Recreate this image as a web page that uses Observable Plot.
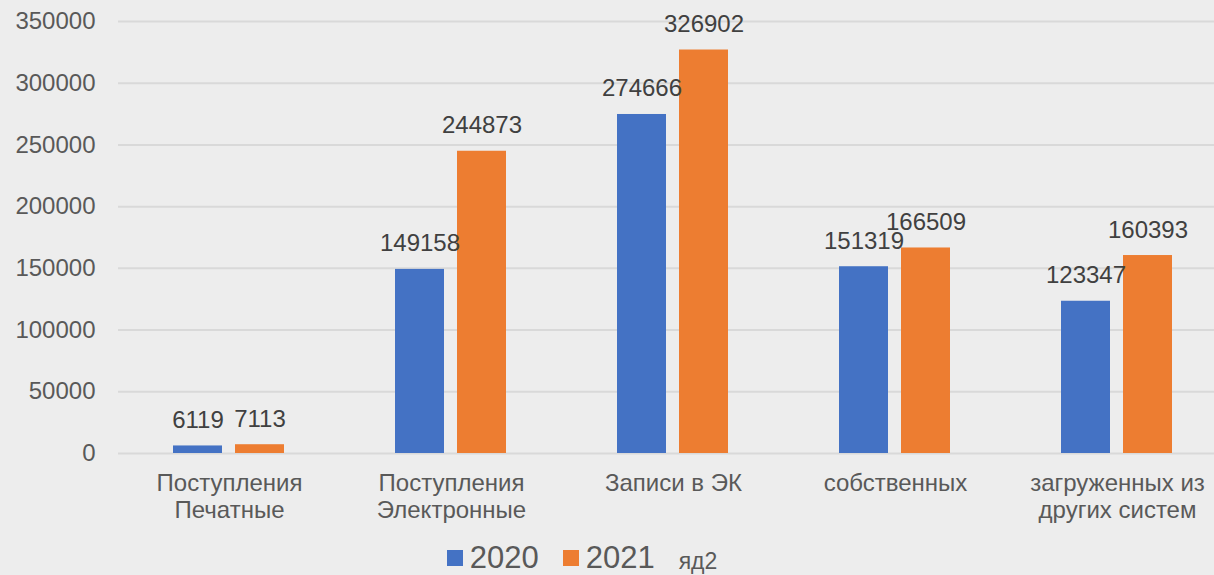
<!DOCTYPE html>
<html><head><meta charset="utf-8">
<script src="https://cdn.jsdelivr.net/npm/d3@7"></script>
<script src="https://cdn.jsdelivr.net/npm/@observablehq/plot@0.6"></script>
<style>
html,body{margin:0;padding:0;background:#ededed;}
body{width:1214px;height:575px;overflow:hidden;font-family:"Liberation Sans",Arial,sans-serif;}
#chart{width:1214px;overflow:hidden;height:535px;}
#legend{display:flex;justify-content:center;align-items:center;height:40px;color:#595959;margin-left:-50px;padding-top:3px;}
.sw{display:inline-block;width:16px;height:16px;margin-right:7px;}
.lt{font-size:31px;margin-right:24px;}
.note{font-size:23px;margin-left:0px;margin-top:6px;}
</style></head>
<body><div id="chart"></div>
<div id="legend"><span class="sw" style="background:#4472C4"></span><span class="lt">2020</span><span class="sw" style="background:#ED7D31"></span><span class="lt">2021</span><span class="note">яд2</span></div>
<script>
const categories = ["Поступления\nПечатные","Поступления\nЭлектронные","Записи в ЭК","собственных","загруженных из\nдругих систем"];
const years = ["2020","2021"];
const values2020 = [6119,149158,274666,151319,123347];
const values2021 = [7113,244873,326902,166509,160393];
const yTicks = [0,50000,100000,150000,200000,250000,300000,350000];
const colors = ["#4472C4","#ED7D31"];

const data = [];
categories.forEach((c,i)=>{
  data.push({cat:c, year:years[0], value:values2020[i]});
  data.push({cat:c, year:years[1], value:values2021[i]});
});

const chart = Plot.plot({
  width:1229, height:535,
  marginTop:21, marginBottom:82, marginLeft:116, marginRight:0,
  style:{background:"#ededed", fontFamily:"'Liberation Sans', Arial, sans-serif", maxWidth:"none", width:"1229px", height:"535px"},
  fx:{domain:categories, paddingInner:0, paddingOuter:0, label:null},
  x:{domain:years, paddingInner:0.206, paddingOuter:0.869, axis:null},
  y:{domain:[0,350000], ticks:yTicks, label:null},
  color:{domain:years, range:colors},
  marks:[
    Plot.gridY(yTicks,{stroke:"#d9d9d9", strokeWidth:2, strokeOpacity:1}),
    Plot.barY(data,{fx:"cat", x:"year", y:"value", fill:"year"}),
    Plot.text(data,{fx:"cat", x:"year", y:"value", text:d=>String(d.value), lineAnchor:"bottom", dy:-18, fontSize:24, fill:"#404040"}),
    Plot.axisY(yTicks,{tickSize:0, tickPadding:23, fontSize:24, fill:"#595959", tickFormat:d=>String(d)}),
    Plot.axisFx({anchor:"bottom", tickSize:0, tickPadding:18, fontSize:24, fill:"#595959", lineHeight:1.125, label:null})
  ]
});
document.getElementById("chart").appendChild(chart);
</script></body></html>
